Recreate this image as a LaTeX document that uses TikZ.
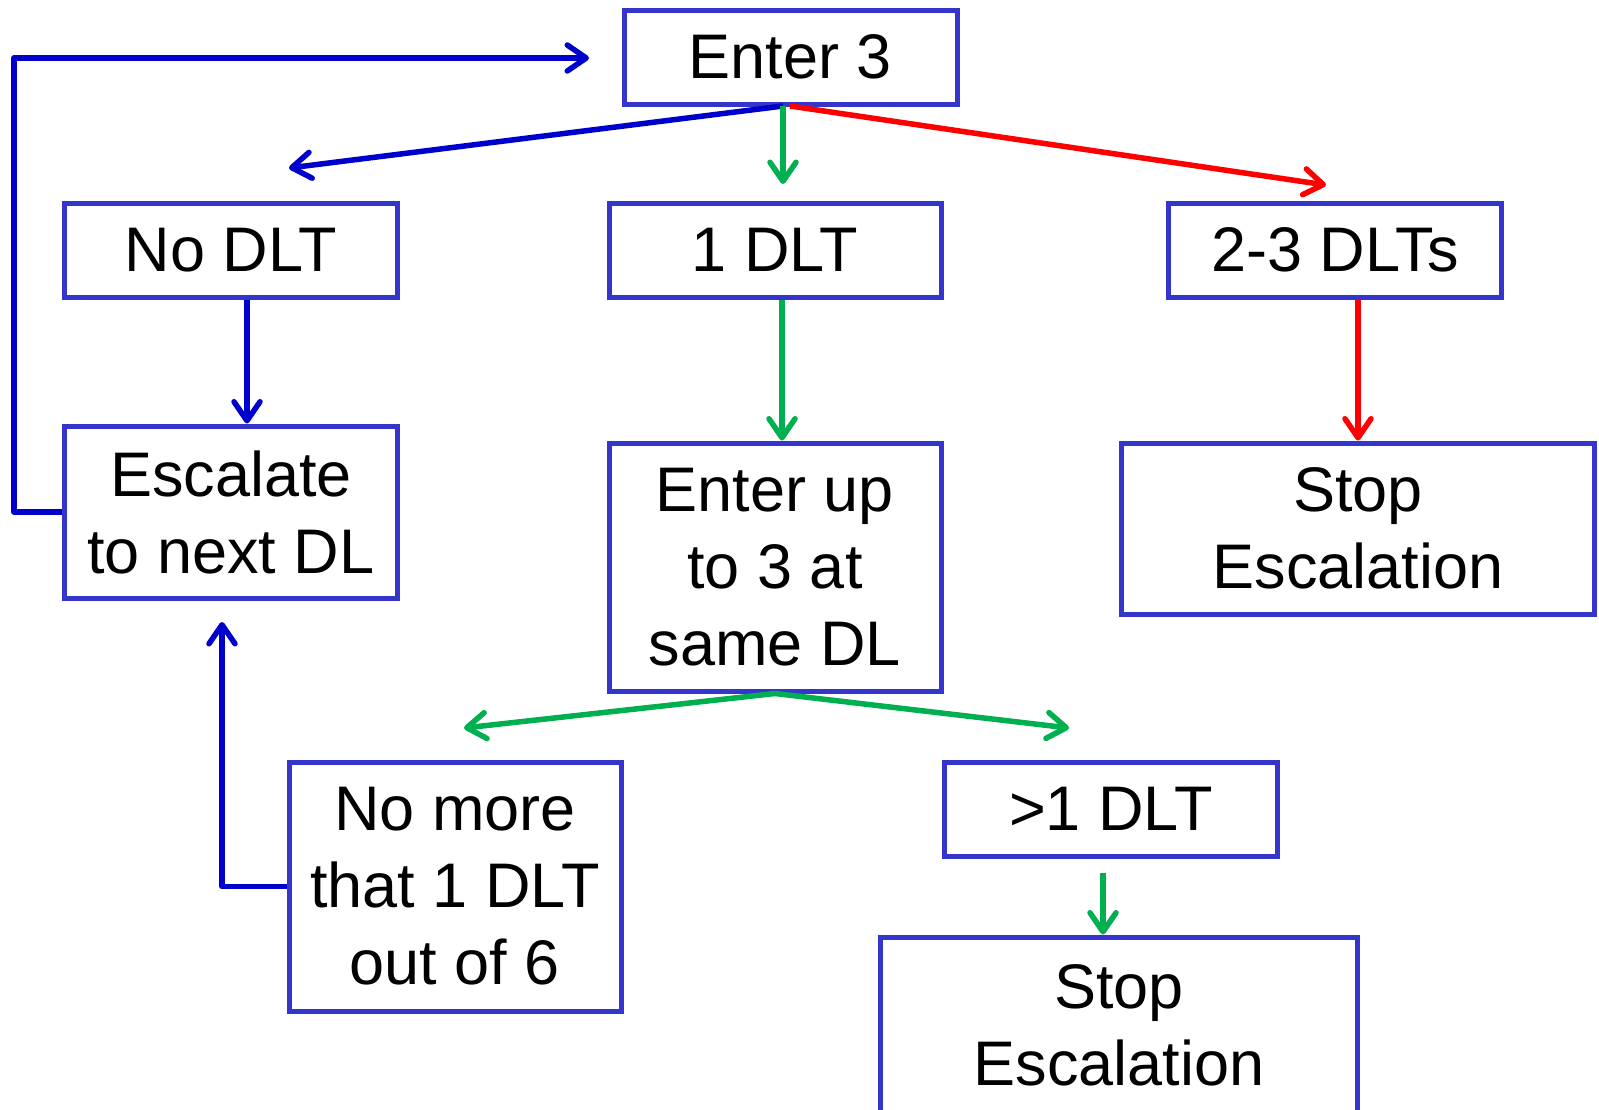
\documentclass[tikz,border=0pt]{standalone}
\usepackage{fontspec}
\setmainfont{Liberation Sans}
\usetikzlibrary{arrows.meta}
\definecolor{boxblue}{HTML}{3535CC}
\definecolor{lineblue}{HTML}{0000CC}
\definecolor{linegreen}{HTML}{00B050}
\definecolor{linered}{HTML}{FF0000}
\begin{document}
\begin{tikzpicture}[x=1pt,y=-1pt,
  box/.style={draw=boxblue,line width=5pt,fill=white,inner sep=0pt,align=center,
    font=\fontsize{63}{77}\selectfont},
  conn/.style={line width=5.5pt,line join=round,
    -{Straight Barb[length=19pt,width=26pt,round]}},
  bconn/.style={conn,draw=lineblue},
  gconn/.style={conn,draw=linegreen},
  rconn/.style={conn,draw=linered}]
\useasboundingbox[fill=white] (0,0) rectangle (1599,1109);

% boxes
\node[box,minimum width=333pt,minimum height=94pt] (enter) at (790.5,57) {Enter 3};
\node[box,minimum width=333pt,minimum height=94pt] (nodlt) at (231,250) {No DLT};
\node[box,minimum width=332pt,minimum height=94pt] (onedlt) at (775,250) {1 DLT};
\node[box,minimum width=333pt,minimum height=94pt] (twothree) at (1335,250) {2-3 DLTs};
\node[box,minimum width=333pt,minimum height=172pt] (escalate) at (231,512) {Escalate\\to next DL};
\node[box,minimum width=332pt,minimum height=248pt] (enterup) at (775,567) {Enter up\\to 3 at\\same DL};
\node[box,minimum width=473pt,minimum height=171pt] (stopR) at (1358,528.5) {Stop\\Escalation};
\node[box,minimum width=332pt,minimum height=249pt] (nomore) at (455,886.5) {No more\\that 1 DLT\\out of 6};
\node[box,minimum width=333pt,minimum height=94pt] (gtone) at (1111,809) {>1 DLT};
\node[box,minimum width=477pt,minimum height=176pt] (stopB) at (1119,1025) {Stop\\Escalation};

% free ends
\coordinate (eb) at (783,106);
\coordinate (er) at (790,106);
\coordinate (tipNo) at (289,168);
\coordinate (tipOne) at (783,184);
\coordinate (tipTwo) at (1326,185);
\coordinate (cNo) at (247,0);
\coordinate (cOne) at (782,0);
\coordinate (loopL) at (14,58);
\coordinate (loopTip) at (589,58);
\coordinate (tipL) at (464,728);
\coordinate (tipR) at (1069,728);
\coordinate (tipUp) at (222,622);
\coordinate (gS) at (1103,873);

% connectors
\draw[bconn] (eb) -- (tipNo);
\draw[gconn] (eb) -- (tipOne);
\draw[rconn] (er) -- (tipTwo);
\draw[bconn] (nodlt.south -| cNo) -- (escalate.north -| cNo);
\draw[gconn] (onedlt.south -| cOne) -- (enterup.north -| cOne);
\draw[rconn] (twothree.south -| stopR.north) -- (stopR.north);
\draw[bconn] (escalate.west) -| (loopL) -- (loopTip);
\draw[gconn] (enterup.south) -- (tipL);
\draw[gconn] (enterup.south) -- (tipR);
\draw[bconn] (nomore.west) -| (tipUp);
\draw[gconn] (gS) -- (gS |- stopB.north);
\end{tikzpicture}
\end{document}
